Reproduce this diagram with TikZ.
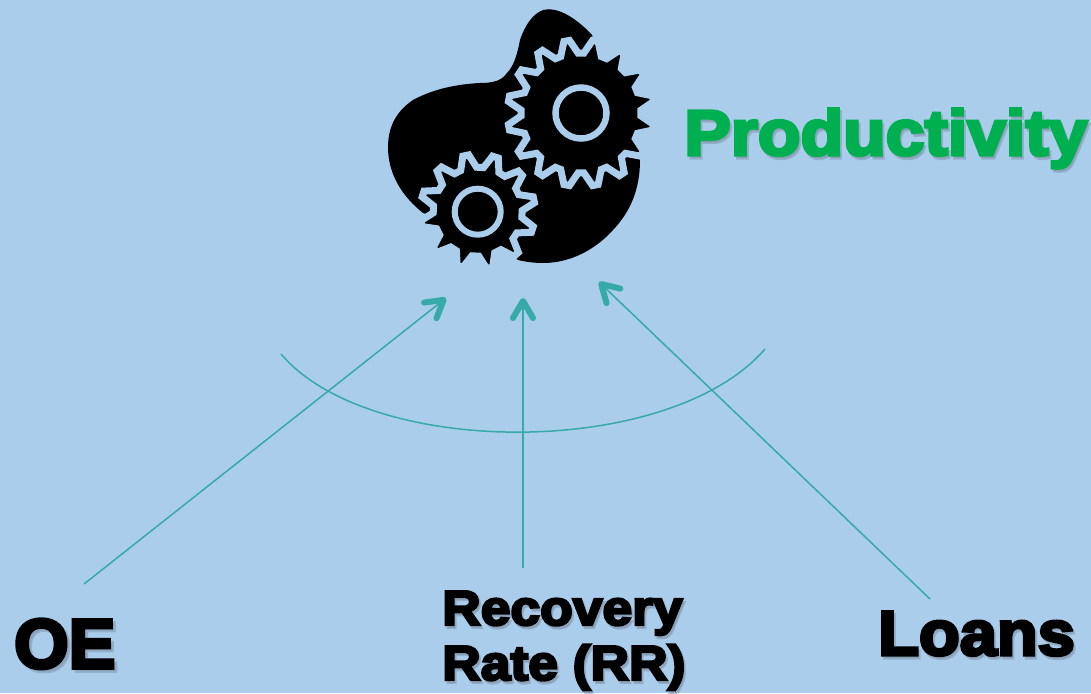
\documentclass[tikz,border=0pt]{standalone}
\usepackage{fontspec}
\usetikzlibrary{arrows.meta}
\newfontfamily\heavyfont[FakeBold=5,FakeStretch=1.09]{Liberation Sans Bold}
\newfontfamily\heavynarrow[FakeBold=5,FakeStretch=1.06]{Liberation Sans Bold}
\newfontfamily\heavyplain[FakeBold=5]{Liberation Sans Bold}
\definecolor{bgblue}{HTML}{ABCDEC}
\definecolor{teal1}{HTML}{36A9A9}
\definecolor{prodgreen}{HTML}{00B050}
\definecolor{shade}{HTML}{7F93A8}
\newcommand{\geardraw}[8]{% cx cy n offset rootR tipR rootHalf tipHalf
  \pgfmathsetmacro{\stp}{360/#3}
  \pgfmathsetmacro{\fa}{#4-#7}
  \begin{scope}[shift={(#1,#2)}]
  \draw[gearstyle] (\fa:#5)
    \foreach \k in {1,...,#3}{
      \pgfextra{\pgfmathsetmacro{\ca}{#4+\k*\stp-\stp}
      \pgfmathsetmacro{\aa}{\ca-#7}\pgfmathsetmacro{\ab}{\ca-#8}
      \pgfmathsetmacro{\ac}{\ca+#8}\pgfmathsetmacro{\ad}{\ca+#7}}
      -- (\aa:#5) -- (\ab:#6) -- (\ac:#6) -- (\ad:#5)
    } -- cycle;
  \end{scope}}
\tikzset{
  x=1pt,y=-1pt,
  gearstyle/.style={fill=black,draw=bgblue,line width=7pt,line join=miter,miter limit=2},
  ringstyle/.style={draw=bgblue,fill=none},
  link/.style={draw=teal1,line width=1.5pt},
  linkhead/.style={link,-{Straight Barb[length=17pt,width=20pt,line width=6pt,round]}},
  lab/.style={inner sep=0pt,anchor=base west},
  labshadow/.style={lab,text=shade,opacity=.5},
}
\begin{document}
\begin{tikzpicture}
\useasboundingbox (0,0) rectangle (1091,693);
\fill[bgblue] (0,0) rectangle (1091,693);
% blob
\fill[black] (548,9.3) .. controls (563,9) and (580,22) .. (592,35)
  -- (613,100) -- (640,160)
  .. controls (640,190) and (630,212) .. (613,230)
  .. controls (595,250) and (570,263) .. (543,263)
  .. controls (535,263) and (526,262) .. (518,260)
  -- (480,230) -- (423,213)
  .. controls (403,197) and (388,175) .. (388,147)
  .. controls (388,125) and (398,110) .. (413,100)
  .. controls (435,88) and (460,84) .. (480,83)
  .. controls (495,83) and (502,80) .. (507,73)
  .. controls (515,65) and (518,50) .. (520,40)
  .. controls (525,25) and (535,9.3) .. (548,9.3) -- cycle;
% gears
\geardraw{581}{113}{16}{11.25}{60}{73.5}{8.5}{2.2}
\draw[ringstyle,line width=6.5pt] (581,113) circle (25.5);
\geardraw{477.7}{211.7}{12}{-12}{44.5}{57.5}{10.5}{3}
\draw[ringstyle,line width=6pt] (477.7,211.7) circle (23);
% named ends
\coordinate (oeS) at (84,584); \coordinate (oeT) at (446,298);
\coordinate (rrS) at (523,568); \coordinate (rrT) at (523,298);
\coordinate (loS) at (930,599); \coordinate (loT) at (599,282);
\coordinate (arcL) at (281,354); \coordinate (arcR) at (765,349);
\draw[linkhead] (oeS) -- (oeT);
\draw[linkhead] (rrS) -- (rrT);
\draw[linkhead] (loS) -- (loT);
\draw[link] (arcL) .. controls (370,459) and (670,459) .. (arcR);
% labels
\node[labshadow,font=\heavyfont\fontsize{64}{64}\selectfont] (prodS) at (686,158) {Productivity};
\node[lab,text=prodgreen,font=\heavyfont\fontsize{64}{64}\selectfont] (prod) at (684,155) {Productivity};
\node[labshadow,font=\heavyplain\fontsize{70}{70}\selectfont] (oeLS) at (17,671) {OE};
\node[lab,font=\heavyplain\fontsize{70}{70}\selectfont] (oeL) at (14,668) {OE};
\node[labshadow,font=\heavyfont\fontsize{49}{49}\selectfont] (r1S) at (444,628) {Recovery};
\node[lab,font=\heavyfont\fontsize{49}{49}\selectfont] (r1) at (442,625) {Recovery};
\node[labshadow,font=\heavyfont\fontsize{49}{49}\selectfont] (r2S) at (444,683) {Rate (RR)};
\node[lab,font=\heavyfont\fontsize{49}{49}\selectfont] (r2) at (442,680) {Rate (RR)};
\node[labshadow,font=\heavynarrow\fontsize{63}{63}\selectfont] (loLS) at (880,658) {Loans};
\node[lab,font=\heavynarrow\fontsize{63}{63}\selectfont] (loL) at (878,655) {Loans};
\end{tikzpicture}
\end{document}
